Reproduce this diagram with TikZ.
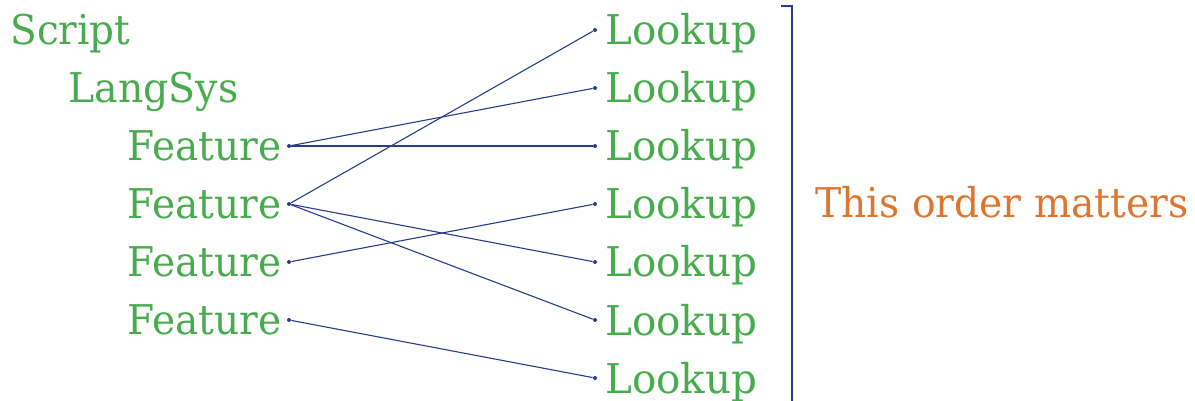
\documentclass[tikz,border=0pt]{standalone}
\usepackage{fontspec}
\setmainfont{DejaVu Serif}
\definecolor{grn}{RGB}{72,172,78}
\definecolor{org}{RGB}{222,118,48}
\definecolor{navy}{RGB}{40,60,140}
\newcommand{\fitw}[2]{\resizebox{#1}{\height}{#2}}
\begin{document}
\begin{tikzpicture}[x=0.5pt,y=-0.5pt,
  lbl/.style={text=grn,font=\fontsize{20.5}{24}\selectfont,inner sep=0pt},
  dotp/.style={circle,fill=navy,inner sep=0pt,minimum size=2pt},
  link/.style={draw=navy,line width=0.55pt}]
\useasboundingbox (0,0) rectangle (1195,401);
\node[lbl,anchor=base west] (script) at (10,45) {\fitw{60pt}{Script}};
\node[lbl,anchor=base west] (langsys) at (68,103) {\fitw{85pt}{LangSys}};
\foreach \i/\y in {1/146,2/204,3/262,4/320}{
  \node[dotp] (f\i) at (289,\y) {};
  \node[lbl,anchor=base east] (ft\i) at (282,\y+15) {\fitw{77pt}{Feature}};
}
\foreach \i/\y in {1/30,2/88,3/146,4/204,5/262,6/320,7/378}{
  \node[dotp] (l\i) at (595,\y) {};
  \node[lbl,anchor=base west] (lt\i) at (605,\y+15) {\fitw{76pt}{Lookup}};
}
\draw[link] (f1) -- (l2);
\draw[link] (f1) -- (l3);
\draw[link] (f2) -- (l1);
\draw[link] (f2) -- (l5);
\draw[link] (f2) -- (l6);
\draw[link] (f3) -- (l4);
\draw[link] (f4) -- (l7);
\coordinate (bt) at (781,6);
\coordinate (bc) at (792,6);
\coordinate (bb) at (792,401);
\draw[draw=navy,line width=0.6pt] (bt) -- (bc) -- (bb);
\node[text=org,font=\fontsize{20.5}{24}\selectfont,inner sep=0pt,anchor=base west] (note) at (815,218) {\fitw{186.5pt}{This order matters}};
\end{tikzpicture}
\end{document}
